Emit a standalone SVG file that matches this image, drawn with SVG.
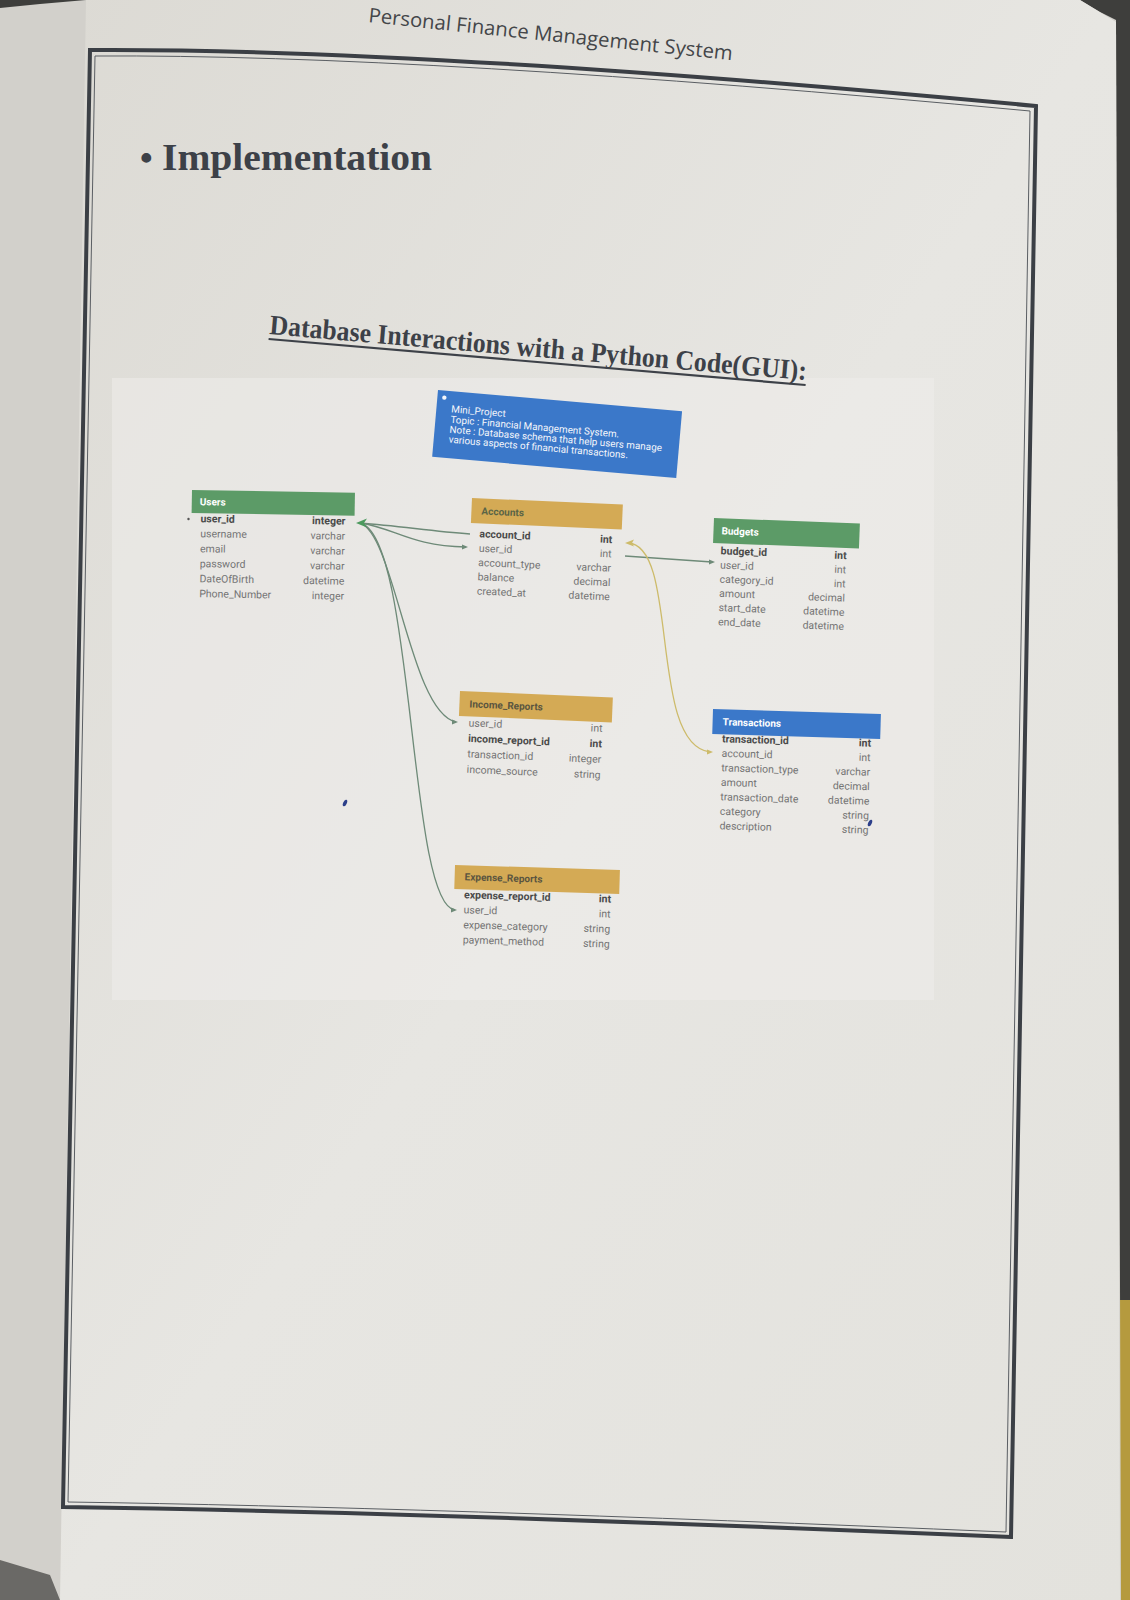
<svg xmlns="http://www.w3.org/2000/svg" width="1130" height="1600" viewBox="0 0 1130 1600">
<defs>
<style>
.hd{font-family:"Open Sans","Liberation Sans",sans-serif;font-size:20px;font-weight:500;fill:#444649}
.sf{font-family:"Liberation Serif","DejaVu Serif",serif;font-weight:bold;fill:#3d4148}
.f{font-family:Roboto,"Liberation Sans",sans-serif;font-size:10.5px;fill:#747474}
.fb{font-family:Roboto,"Liberation Sans",sans-serif;font-size:10.5px;fill:#4a4a4a;font-weight:bold}
.t{text-anchor:end}
.ttl{font-family:Roboto,"Liberation Sans",sans-serif;font-size:10px;font-weight:bold}
.nt{font-family:Roboto,"Liberation Sans",sans-serif;font-size:9.9px;fill:#f4f6fb}
.c{fill:none;stroke:#6e8a78;stroke-width:1.3}
.cy{fill:none;stroke:#cdbb6a;stroke-width:1.3}
.gr{fill:#5c9b67}
.yl{fill:#d4aa55}
.bl{fill:#3b78c9}
</style>
<linearGradient id="pg" x1="0" y1="0" x2="1" y2="1">
<stop offset="0" stop-color="#dcdad4"/>
<stop offset="0.5" stop-color="#e7e6e2"/>
<stop offset="1" stop-color="#e3e2dd"/>
</linearGradient>
</defs>

<!-- background / page -->
<rect x="0" y="0" width="1130" height="1600" fill="#3e3e3c"/>
<polygon points="1116,1300 1130,1300 1130,1600 1119,1600" fill="#b59a3e"/>
<polygon points="0,8 40,4 86,0 1080,0 1100,12 1116,20 1121,1600 0,1600" fill="#d2d0cb"/>
<polygon points="86,0 1080,0 1116,22 1120,1600 60,1600" fill="url(#pg)"/>
<polygon points="0,1560 50,1575 60,1600 0,1600" fill="#6a6966"/>
<rect x="112" y="378" width="822" height="622" fill="#eeedeb" opacity="0.55"/>

<!-- frame -->
<path d="M90,50 Q420,48 1036,106 L1011,1537 Q420,1512 63,1507 Z" fill="none" stroke="#3b3f45" stroke-width="4"/>
<path d="M95,56 Q420,54 1030,111 L1006,1532 Q420,1507 68,1502 Z" fill="none" stroke="#5a5e63" stroke-width="1"/>

<!-- headings -->
<text class="hd" transform="translate(368,22) rotate(6)" textLength="366" lengthAdjust="spacingAndGlyphs">Personal Finance Management System</text>
<text class="sf" x="140" y="170" font-size="36">•</text>
<text class="sf" x="162" y="170" font-size="38" textLength="270" lengthAdjust="spacingAndGlyphs">Implementation</text>
<g transform="translate(269,334) rotate(4.9)">
<text class="sf" x="0" y="0" font-size="28" textLength="539" lengthAdjust="spacingAndGlyphs">Database Interactions with a Python Code(GUI):</text>
<line x1="0" y1="5" x2="539" y2="5" stroke="#3d4148" stroke-width="2.2"/>
</g>

<!-- note -->
<g id="note" transform="translate(438,390) rotate(5)">
<rect width="245" height="67" class="bl"/>
<circle cx="7" cy="7" r="2.2" fill="#f4f6fb"/>
<text class="nt" x="15" y="21">Mini_Project</text>
<text class="nt" x="15" y="31.5">Topic : Financial Management System.</text>
<text class="nt" x="15" y="41.5">Note : Database schema that help users manage</text>
<text class="nt" x="15" y="51.5">various aspects of financial transactions.</text>
</g>

<!-- connectors -->
<g id="connectors">
<path class="c" d="M360,523 C400,526 430,531 470,534"/>
<path class="c" d="M360,523 C395,528 410,546 466,547"/>
<path class="c" d="M360,523 C395,535 410,712 456,722"/>
<path class="c" d="M360,523 C415,535 408,905 455,910"/>
<path class="c" d="M625,556 L712,562"/>
<path class="cy" d="M628,543 C680,545 648,745 710,752"/>
<polygon points="356,523 367,518.5 364,523 367,527.5" fill="#4c9a5e"/>
<polygon points="625,543 634,539.5 632,543 634,546.5" fill="#cdbb6a"/>
<polygon points="468,547 462,544.5 462,549.5" fill="#6e8a78"/>
<polygon points="458,722 452,719.5 452,724.5" fill="#6e8a78"/>
<polygon points="457,910 451,907.5 451,912.5" fill="#6e8a78"/>
<polygon points="715,562 709,559.5 709,564.5" fill="#6e8a78"/>
<polygon points="713,752 707,749.5 707,754.5" fill="#cdbb6a"/>
</g>

<!-- Users -->
<g id="users" transform="translate(192,490) rotate(1)">
<rect width="163" height="23" class="gr"/>
<text class="ttl" x="8" y="15" fill="#ffffff">Users</text>
<circle cx="-3" cy="29" r="1.2" fill="#555"/>
<text class="fb" x="9" y="32">user_id</text><text class="fb t" x="154" y="32">integer</text>
<text class="f" x="9" y="47">username</text><text class="f t" x="154" y="47">varchar</text>
<text class="f" x="9" y="62">email</text><text class="f t" x="154" y="62">varchar</text>
<text class="f" x="9" y="77">password</text><text class="f t" x="154" y="77">varchar</text>
<text class="f" x="9" y="92">DateOfBirth</text><text class="f t" x="154" y="92">datetime</text>
<text class="f" x="9" y="107">Phone_Number</text><text class="f t" x="154" y="107">integer</text>
</g>

<!-- Accounts -->
<g id="accounts" transform="translate(472,498) rotate(2.5)">
<rect width="151" height="25" class="yl"/>
<text class="ttl" x="10" y="16" fill="#5a6446">Accounts</text>
<text class="fb" x="9" y="39">account_id</text><text class="fb t" x="142" y="39">int</text>
<text class="f" x="9" y="53.3">user_id</text><text class="f t" x="142" y="53.3">int</text>
<text class="f" x="9" y="67.6">account_type</text><text class="f t" x="142" y="67.6">varchar</text>
<text class="f" x="9" y="81.9">balance</text><text class="f t" x="142" y="81.9">decimal</text>
<text class="f" x="9" y="96.2">created_at</text><text class="f t" x="142" y="96.2">datetime</text>
</g>

<!-- Budgets -->
<g id="budgets" transform="translate(714,518) rotate(2.2)">
<rect width="146" height="25" class="gr"/>
<text class="ttl" x="8" y="16" fill="#ffffff">Budgets</text>
<text class="fb" x="8" y="36">budget_id</text><text class="fb t" x="134" y="36">int</text>
<text class="f" x="8" y="50.2">user_id</text><text class="f t" x="134" y="50.2">int</text>
<text class="f" x="8" y="64.4">category_id</text><text class="f t" x="134" y="64.4">int</text>
<text class="f" x="8" y="78.6">amount</text><text class="f t" x="134" y="78.6">decimal</text>
<text class="f" x="8" y="92.8">start_date</text><text class="f t" x="134" y="92.8">datetime</text>
<text class="f" x="8" y="107">end_date</text><text class="f t" x="134" y="107">datetime</text>
</g>

<!-- Income_Reports -->
<g id="income_reports" transform="translate(460,691) rotate(2.4)">
<rect width="153" height="25" class="yl"/>
<text class="ttl" x="10" y="16" fill="#5a5540">Income_Reports</text>
<text class="f" x="10" y="35">user_id</text><text class="f t" x="144" y="35">int</text>
<text class="fb" x="10" y="50.5">income_report_id</text><text class="fb t" x="144" y="50.5">int</text>
<text class="f" x="10" y="66">transaction_id</text><text class="f t" x="144" y="66">integer</text>
<text class="f" x="10" y="81.5">income_source</text><text class="f t" x="144" y="81.5">string</text>
</g>

<!-- Transactions -->
<g id="transactions" transform="translate(713,709) rotate(1.7)">
<rect width="168" height="25" class="bl"/>
<text class="ttl" x="10" y="16" fill="#ffffff">Transactions</text>
<text class="fb" x="10" y="33">transaction_id</text><text class="fb t" x="159" y="33">int</text>
<text class="f" x="10" y="47.5">account_id</text><text class="f t" x="159" y="47.5">int</text>
<text class="f" x="10" y="62">transaction_type</text><text class="f t" x="159" y="62">varchar</text>
<text class="f" x="10" y="76.5">amount</text><text class="f t" x="159" y="76.5">decimal</text>
<text class="f" x="10" y="91">transaction_date</text><text class="f t" x="159" y="91">datetime</text>
<text class="f" x="10" y="105.5">category</text><text class="f t" x="159" y="105.5">string</text>
<text class="f" x="10" y="120">description</text><text class="f t" x="159" y="120">string</text>
</g>

<!-- Expense_Reports -->
<g id="expense_reports" transform="translate(455,865) rotate(1.7)">
<rect width="165" height="24" class="yl"/>
<text class="ttl" x="10" y="15" fill="#5a5540">Expense_Reports</text>
<text class="fb" x="10" y="33">expense_report_id</text><text class="fb t" x="157" y="33">int</text>
<text class="f" x="10" y="48">user_id</text><text class="f t" x="157" y="48">int</text>
<text class="f" x="10" y="63">expense_category</text><text class="f t" x="157" y="63">string</text>
<text class="f" x="10" y="78">payment_method</text><text class="f t" x="157" y="78">string</text>
</g>

<!-- pen marks -->
<ellipse cx="345" cy="803" rx="1.8" ry="3.5" transform="rotate(25 345 803)" fill="#2c3f8a"/>
<ellipse cx="870" cy="823" rx="1.8" ry="3.5" transform="rotate(25 870 823)" fill="#2c3f8a"/>
</svg>
